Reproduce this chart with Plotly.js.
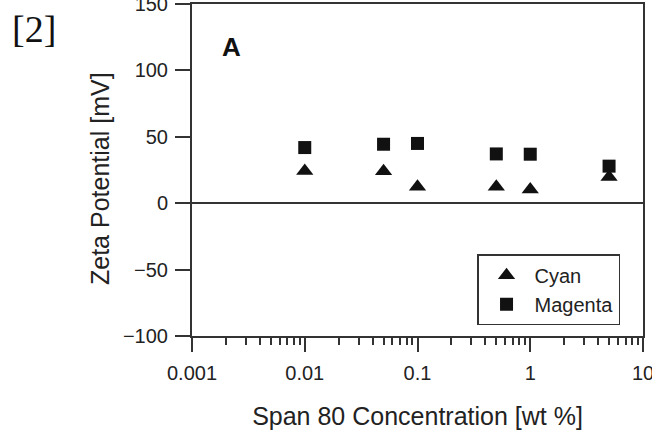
<!DOCTYPE html>
<html>
<head>
<meta charset="utf-8">
<script src="https://cdn.plot.ly/plotly-3.0.1.min.js"></script>
<style>
html,body{margin:0;padding:0;background:#fff;}
#chart{width:652px;height:430px;}
</style>
</head>
<body>
<div id="chart"></div>
<script>
// Data
const concentration = [0.01, 0.05, 0.1, 0.5, 1, 5];
const cyanZeta = [24.3, 24.1, 12.3, 12.3, 10.3, 19.8];
const magentaZeta = [41.9, 44.4, 45.0, 37.1, 36.9, 27.9];
const seriesNames = ['Cyan', 'Magenta'];
const xTickVals = [0.001, 0.01, 0.1, 1, 10];
const xTickText = ['0.001', '0.01', '0.1', '1', '10'];

const axisColor = '#333';
const textColor = '#222';
const font = 'Liberation Sans, Arial, sans-serif';

const traces = [
  {
    x: concentration, y: cyanZeta, name: seriesNames[0],
    type: 'scatter', mode: 'markers',
    marker: {symbol: 'triangle-up', size: 15, color: '#111'}
  },
  {
    x: concentration, y: magentaZeta, name: seriesNames[1],
    type: 'scatter', mode: 'markers',
    marker: {symbol: 'square', size: 13, color: '#111'}
  }
];

const layout = {
  width: 652, height: 430,
  margin: {l: 192, r: 9, t: 4, b: 94},
  paper_bgcolor: '#fff', plot_bgcolor: '#fff',
  font: {family: font, color: textColor, size: 20},
  showlegend: true,
  legend: {
    x: 0.632, y: 0.246, xanchor: 'left', yanchor: 'top',
    bordercolor: axisColor, borderwidth: 1.5, bgcolor: '#fff',
    font: {family: font, size: 20, color: textColor},
    itemwidth: 46,
    tracegroupgap: 0
  },
  xaxis: {
    type: 'log', range: [-3, 1],
    tickvals: xTickVals, ticktext: xTickText,
    ticks: 'outside', ticklen: 14, tickwidth: 2, tickcolor: axisColor,
    showline: true, linecolor: axisColor, linewidth: 2, mirror: true,
    showgrid: false, zeroline: false,
    tickfont: {family: font, size: 20, color: textColor},
    ticklabelstandoff: 4,
    ticklabeloverflow: 'allow',
    minor: {dtick: 'D1', ticks: 'outside', ticklen: 7, tickwidth: 2, tickcolor: axisColor, showgrid: false},
    title: {text: 'Span 80 Concentration [wt %]', font: {family: font, size: 25, color: textColor}, standoff: 24}
  },
  yaxis: {
    range: [-100, 150], dtick: 50, tick0: 0,
    ticks: 'outside', ticklen: 15, tickwidth: 2, tickcolor: axisColor,
    showline: true, linecolor: axisColor, linewidth: 2, mirror: true,
    showgrid: false,
    zeroline: true, zerolinecolor: axisColor, zerolinewidth: 2,
    tickfont: {family: font, size: 20, color: textColor},
    ticklabelstandoff: 3,
    ticklabeloverflow: 'allow'
  },
  annotations: [
    {text: 'Zeta Potential [mV]', xref: 'paper', yref: 'paper',
     x: (100-192)/451, y: (336-179)/332, xanchor: 'center', yanchor: 'middle',
     textangle: -90, showarrow: false, font: {family: font, size: 25, color: textColor}},
    {text: '<b>A</b>', xref: 'paper', yref: 'paper', x: (231-192)/451, y: (336-46.5)/332,
     xanchor: 'center', yanchor: 'middle',
     showarrow: false, font: {family: font, size: 26, color: '#111'}},
    {text: '[2]', xref: 'paper', yref: 'paper', x: (33.5-192)/451, y: (336-29.5)/332,
     xanchor: 'center', yanchor: 'middle',
     showarrow: false, font: {family: 'Liberation Serif, Times New Roman, serif', size: 38, color: '#111'}}
  ]
};

Plotly.newPlot('chart', traces, layout, {displayModeBar: false, staticPlot: true});
</script>
</body>
</html>
